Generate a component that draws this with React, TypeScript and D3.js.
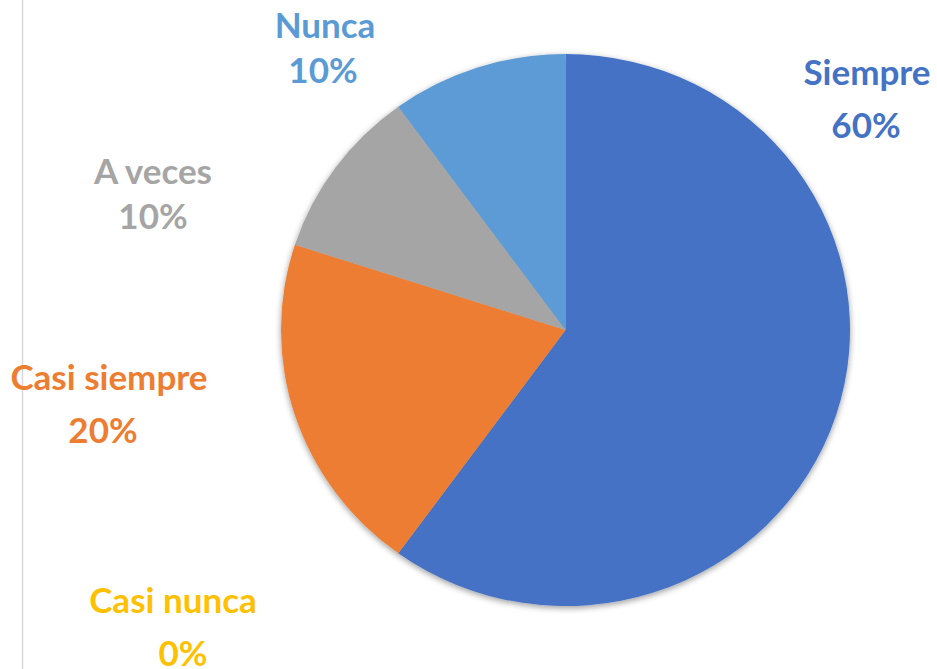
import React from "react";
import * as d3 from "d3";

const categories = ["Siempre", "Casi nunca", "Casi siempre", "A veces", "Nunca"];
const values = [60, 0, 20, 10, 10];
const colors = ["#4472C4", "#FFC000", "#ED7D31", "#A5A5A5", "#5B9BD5"];
// label anchor centers: cxName, yName, cxPct, yPct
const labelPos: Record<string, [number, number, number, number]> = {
  "Siempre": [867, 85, 866, 138],
  "Casi nunca": [173, 613, 183, 666],
  "Casi siempre": [109, 390, 103, 443],
  "A veces": [153, 184, 153, 229],
  "Nunca": [325, 38, 323, 83],
};

const W = 937, H = 669;
const cx = 565.5, cy = 330, R = 276, RX = 284.5;

export default function App() {
  const pie = d3.pie<number>().sort(null).value((d) => d)(values);
  const arc = d3.arc<d3.PieArcDatum<number>>().innerRadius(0).outerRadius(R);
  const font = "Lato, 'Open Sans', sans-serif";
  return (
    <svg width={W} height={H} style={{ position: "absolute", left: 0, top: 0, background: "#fff" }}>
      <defs>
        <filter id="sh" x="-20%" y="-20%" width="140%" height="140%">
          <feGaussianBlur in="SourceAlpha" stdDeviation="3" />
          <feOffset dx="0" dy="2" result="b" />
          <feComponentTransfer>
            <feFuncA type="linear" slope="0.4" />
          </feComponentTransfer>
          <feMerge>
            <feMergeNode />
            <feMergeNode in="SourceGraphic" />
          </feMerge>
        </filter>
      </defs>
      <line x1={22.5} x2={22.5} y1={0} y2={H} stroke="#D9D9D9" strokeWidth={1.5} />
      <g transform={`translate(${cx},${cy}) scale(${RX / R},1)`} filter="url(#sh)">
        {pie.map((p, i) =>
          p.value > 0 ? <path key={categories[i]} d={arc(p) || ""} fill={colors[i]} /> : null
        )}
      </g>
      {categories.map((c, i) => {
        const lp = labelPos[c];
        return (
          <g key={c} fill={colors[i]} fontFamily={font} fontWeight={700} fontSize={35} textAnchor="middle">
            <text x={lp[0]} y={lp[1]}>{c}</text>
            <text x={lp[2]} y={lp[3]}>{`${values[i]}%`}</text>
          </g>
        );
      })}
    </svg>
  );
}
